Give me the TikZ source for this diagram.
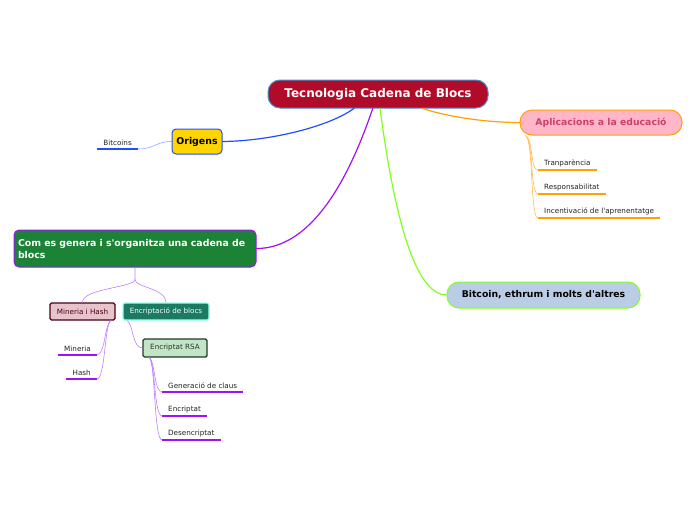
\documentclass[tikz,border=0pt]{standalone}
\usepackage{fontspec}
\setmainfont{DejaVu Sans}
\usetikzlibrary{calc}

\definecolor{tcbred}{HTML}{B00C2A}
\definecolor{tcbedge}{HTML}{4A8FD0}
\definecolor{orgblue}{HTML}{1E4FFF}
\definecolor{orggold}{HTML}{FFD500}
\definecolor{aplpink}{HTML}{FFB6C9}
\definecolor{apltext}{HTML}{CF3F6C}
\definecolor{aplorange}{HTML}{FFA200}
\definecolor{comgreen}{HTML}{1B8236}
\definecolor{compurple}{HTML}{A010F5}
\definecolor{sublila}{HTML}{C07CFF}
\definecolor{btcblue}{HTML}{B9CDE6}
\definecolor{btclime}{HTML}{82FF1A}
\definecolor{minpink}{HTML}{E7C3CB}
\definecolor{minedge}{HTML}{4A0012}
\definecolor{encteal}{HTML}{1C7A62}
\definecolor{encedge}{HTML}{A0FFEE}
\definecolor{rsafill}{HTML}{C4E4C7}
\definecolor{rsaedge}{HTML}{1F3A24}
\definecolor{leaftext}{HTML}{222222}

\tikzset{
  topic/.style={draw=tcbedge,fill=tcbred,text=white,line width=1pt,rounded corners=12pt,
    minimum width=220pt,minimum height=28pt,font=\fontsize{12}{14}\selectfont\bfseries},
  branch/.style={rounded corners=#1,line width=1pt,inner sep=2pt},
  box/.style={rounded corners=1.5pt,line width=1.4pt,inner sep=2pt,
    font=\fontsize{7.2}{9}\selectfont},
  leaf/.style={inner xsep=6pt,inner ysep=3pt,text=leaftext,font=\fontsize{7.2}{9}\selectfont},
  uline/.style={line width=2pt,line cap=butt},
  link/.style={line width=1.2pt},
  sublink/.style={line width=0.6pt},
}

\begin{document}
\begin{tikzpicture}[x=1pt,y=-1pt,line cap=round,line join=round]
\useasboundingbox (0,0) rectangle (696,520);
% central topic
\node[topic] (tcb) at (378,94) {Tecnologia Cadena de Blocs};
% main branches
\node[branch=4pt,draw=orgblue,fill=orggold,minimum width=50pt,minimum height=25pt,
  font=\fontsize{9.4}{11}\selectfont\bfseries] (org) at (197,141.5) {Origens};
\node[branch=12pt,draw=aplorange,fill=aplpink,text=apltext,minimum width=162pt,minimum height=25pt,
  font=\fontsize{9.3}{11}\selectfont\bfseries] (apl) at (601,122.5) {Aplicacions a la educació};
\node[branch=5pt,draw=compurple,fill=comgreen,text=white,minimum width=242pt,minimum height=37pt,
  text width=234pt,align=left,font=\fontsize{9.4}{12}\selectfont\bfseries] (com) at (135,248.5)
  {Com es genera i s\textquotesingle organitza una cadena de blocs};
\node[branch=12pt,draw=btclime,fill=btcblue,minimum width=193pt,minimum height=26pt,
  font=\fontsize{9.3}{11}\selectfont\bfseries] (btc) at (543.5,295) {Bitcoin, ethrum i molts d\textquotesingle altres};
\draw[link,orgblue] (tcb.211) .. controls (330,126) and (272,141) .. (org.east);
\draw[link,aplorange] (tcb.-18) .. controls (452,118) and (490,122.5) .. (apl.west);
\draw[link,compurple] (tcb.250) .. controls (340,205) and (300,248.5) .. (com.east);
\draw[link,btclime] (tcb.278) .. controls (396,230) and (418,295) .. (btc.west);

% Origens
\node[leaf,anchor=south east] (bit) at (138,149) {Bitcoins};
\draw[uline,orgblue] (bit.south west) -- (bit.south east);
\draw[sublink,orgblue!50] (org.west) .. controls (156,141.5) and (154,149) .. (bit.south east);

% Aplicacions a la educacio
\coordinate (aplfoot) at ($(apl.south west)+(6,0)$);
\node[leaf,anchor=south west] (tra) at (538,170) {Tranparència};
\node[leaf,anchor=south west] (res) at (538,194) {Responsabilitat};
\node[leaf,anchor=south west] (inc) at (538,218) {Incentivació de l\textquotesingle aprenentatge};
\foreach \n in {tra,res,inc}{
  \draw[uline,aplorange] (\n.south west) -- (\n.south east);
  \draw[sublink,aplorange!70] (aplfoot) .. controls ($(aplfoot)+(8,4)$) and ($(\n.south west)+(-8,0)$) .. (\n.south west);
}

% Com es genera
\node[box,draw=minedge,fill=minpink,text=minedge,minimum width=65pt,minimum height=17pt] (min) at (82.5,311.5) {Mineria i Hash};
\node[box,draw=encedge,fill=encteal,text=white!90!encedge,minimum width=86pt,minimum height=17pt] (enc) at (166,311.5) {Encriptació de blocs};
\draw[sublink,sublila] (com.south) -- ($(com.south)+(0,12)$) .. controls ($(com.south)+(0,20)$) and ($(min.north)+(0,-14)$) .. (min.north);
\draw[sublink,sublila] ($(com.south)+(0,12)$) .. controls ($(com.south)+(0,20)$) and ($(enc.north)+(0,-14)$) .. (enc.north);

% Mineria i Hash
\coordinate (minfoot) at ($(min.south east)+(-5,0)$);
\node[leaf,anchor=south east] (mnr) at (97,355) {Mineria};
\node[leaf,anchor=south east] (hsh) at (97,379) {Hash};
\foreach \n in {mnr,hsh}{
  \draw[uline,compurple] (\n.south west) -- (\n.south east);
  \draw[sublink,sublila] (minfoot) .. controls ($(minfoot)+(-6,4)$) and ($(\n.south east)+(8,0)$) .. (\n.south east);
}

% Encriptacio de blocs
\node[box,draw=rsaedge,fill=rsafill,text=rsaedge,minimum width=64pt,minimum height=18pt] (rsa) at (175,348) {Encriptat RSA};
\coordinate (encfoot) at ($(enc.south west)+(5,0)$);
\draw[sublink,sublila] (encfoot) .. controls ($(encfoot)+(6,4)$) and ($(rsa.west)+(-10,0)$) .. (rsa.west);

% Encriptat RSA
\coordinate (rsafoot) at ($(rsa.south west)+(7,0)$);
\node[leaf,anchor=south west] (gen) at (162,392) {Generació de claus};
\node[leaf,anchor=south west] (enp) at (162,416) {Encriptat};
\node[leaf,anchor=south west] (des) at (162,440) {Desencriptat};
\foreach \n in {gen,enp,des}{
  \draw[uline,compurple] (\n.south west) -- (\n.south east);
  \draw[sublink,sublila] (rsafoot) .. controls ($(rsafoot)+(6,4)$) and ($(\n.south west)+(-8,0)$) .. (\n.south west);
}
\end{tikzpicture}
\end{document}
